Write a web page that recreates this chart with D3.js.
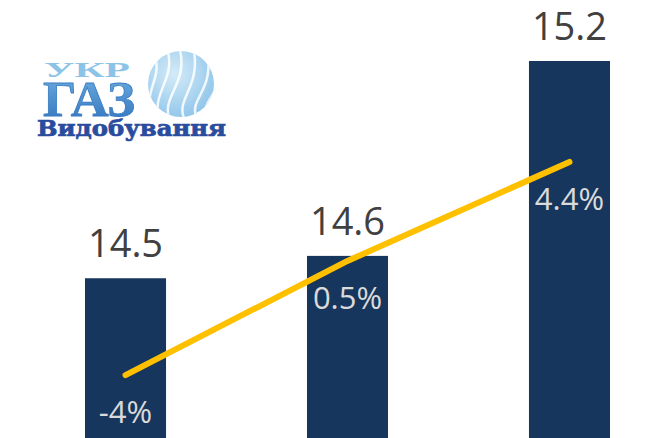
<!DOCTYPE html>
<html>
<head>
<meta charset="utf-8">
<script src="https://cdn.jsdelivr.net/npm/d3@7"></script>
<style>
  html, body { margin: 0; padding: 0; background: #ffffff; }
  svg { display: block; }
</style>
</head>
<body>
<svg id="chart" width="667" height="438"></svg>
<script>
// Gas production, bcm, and year-on-year change
const years = ["2015", "2016", "2017"];
const production = [14.52, 14.59, 15.2];
const changePct = [-4, 0.5, 4.4];
const changeLabels = ["-4%", "0.5%", "4.4%"];

const width = 667;
const height = 438;
const svg = d3.select("#chart");

const x = d3.scaleBand()
    .domain(years)
    .range([14.5, 680.5])
    .paddingInner(0.635)
    .paddingOuter(0.3176);

const y = d3.scaleLinear()
    .domain([14.02, 15.2])
    .range([height, 61]);

// secondary scale for the % change line
const y2 = d3.scaleLinear()
    .domain([-6.48, 8.38])
    .range([height, 61]);

const data = years.map((yr, i) => ({
    year: yr,
    value: production[i],
    pct: changePct[i],
    pctLabel: changeLabels[i]
}));

svg.append("g")
    .selectAll("rect")
    .data(data)
    .join("rect")
    .attr("x", d => x(d.year))
    .attr("y", d => y(d.value))
    .attr("width", x.bandwidth())
    .attr("height", d => height - y(d.value))
    .attr("fill", "#17365d");

svg.append("g")
    .selectAll("text")
    .data(data)
    .join("text")
    .attr("x", d => x(d.year) + x.bandwidth() / 2)
    .attr("y", d => y(d.value) - 21)
    .attr("text-anchor", "middle")
    .attr("font-family", "'Open Sans', sans-serif")
    .attr("font-size", 38)
    .attr("fill", "#404040")
    .text(d => d3.format(".1f")(d.value));

const line = d3.line()
    .x(d => x(d.year) + x.bandwidth() / 2)
    .y(d => y2(d.pct));

svg.append("path")
    .datum(data)
    .attr("d", line)
    .attr("fill", "none")
    .attr("stroke", "#ffc000")
    .attr("stroke-width", 6)
    .attr("stroke-linecap", "round")
    .attr("stroke-linejoin", "round");

svg.append("g")
    .selectAll("text")
    .data(data)
    .join("text")
    .attr("x", d => x(d.year) + x.bandwidth() / 2)
    .attr("y", d => y2(d.pct) + 48)
    .attr("text-anchor", "middle")
    .attr("font-family", "'Open Sans', sans-serif")
    .attr("font-size", 31)
    .attr("fill", "#dadada")
    .text(d => d.pctLabel);

// Logo (decoration)
const logo = svg.append("g");
const defs = svg.append("defs");

const grad = defs.append("linearGradient")
    .attr("id", "gazGrad")
    .attr("x1", 0).attr("y1", 0).attr("x2", 0).attr("y2", 1);
grad.append("stop").attr("offset", "0%").attr("stop-color", "#6fb0e0");
grad.append("stop").attr("offset", "100%").attr("stop-color", "#2f72bd");

const sphere = defs.append("radialGradient")
    .attr("id", "sphereGrad")
    .attr("cx", "40%").attr("cy", "35%").attr("r", "70%");
sphere.append("stop").attr("offset", "0%").attr("stop-color", "#d4ebf8");
sphere.append("stop").attr("offset", "100%").attr("stop-color", "#8fc5ea");

defs.append("clipPath").attr("id", "sphereClip")
    .append("circle").attr("cx", 181).attr("cy", 84).attr("r", 33);

logo.append("circle")
    .attr("cx", 181).attr("cy", 84).attr("r", 33)
    .attr("fill", "url(#sphereGrad)");

const flames = logo.append("g").attr("clip-path", "url(#sphereClip)");
const flamePaths = [
    "M160,120 C150,95 175,80 168,52",
    "M170,120 C160,98 188,84 180,50",
    "M184,118 C176,100 200,86 194,52",
    "M196,116 C190,100 212,90 208,58",
    "M152,112 C144,92 160,80 156,60",
    "M206,112 C204,100 220,94 218,72"
];
flames.selectAll("path")
    .data(flamePaths)
    .join("path")
    .attr("d", d => d)
    .attr("fill", "none")
    .attr("stroke", "#ffffff")
    .attr("stroke-width", 2.5)
    .attr("opacity", 0.85);

logo.append("text")
    .attr("x", 44).attr("y", 77)
    .attr("font-family", "'Liberation Serif', serif")
    .attr("font-weight", "bold")
    .attr("font-size", 20)
    .attr("textLength", 86)
    .attr("lengthAdjust", "spacingAndGlyphs")
    .attr("fill", "#8cc4e8")
    .text("УКР");

logo.append("text")
    .attr("x", 43).attr("y", 116)
    .attr("font-family", "'Liberation Serif', serif")
    .attr("font-weight", "bold")
    .attr("font-size", 50)
    .attr("textLength", 92)
    .attr("lengthAdjust", "spacingAndGlyphs")
    .attr("fill", "url(#gazGrad)")
    .attr("stroke", "#3a7cc4")
    .attr("stroke-width", 0.8)
    .text("ГАЗ");

logo.append("text")
    .attr("x", 37).attr("y", 136)
    .attr("font-family", "'DejaVu Serif', serif")
    .attr("font-weight", "bold")
    .attr("font-size", 22)
    .attr("textLength", 189)
    .attr("lengthAdjust", "spacingAndGlyphs")
    .attr("fill", "#2a4c9e")
    .attr("stroke", "#2a4c9e")
    .attr("stroke-width", 0.7)
    .text("Видобування");
</script>
</body>
</html>
